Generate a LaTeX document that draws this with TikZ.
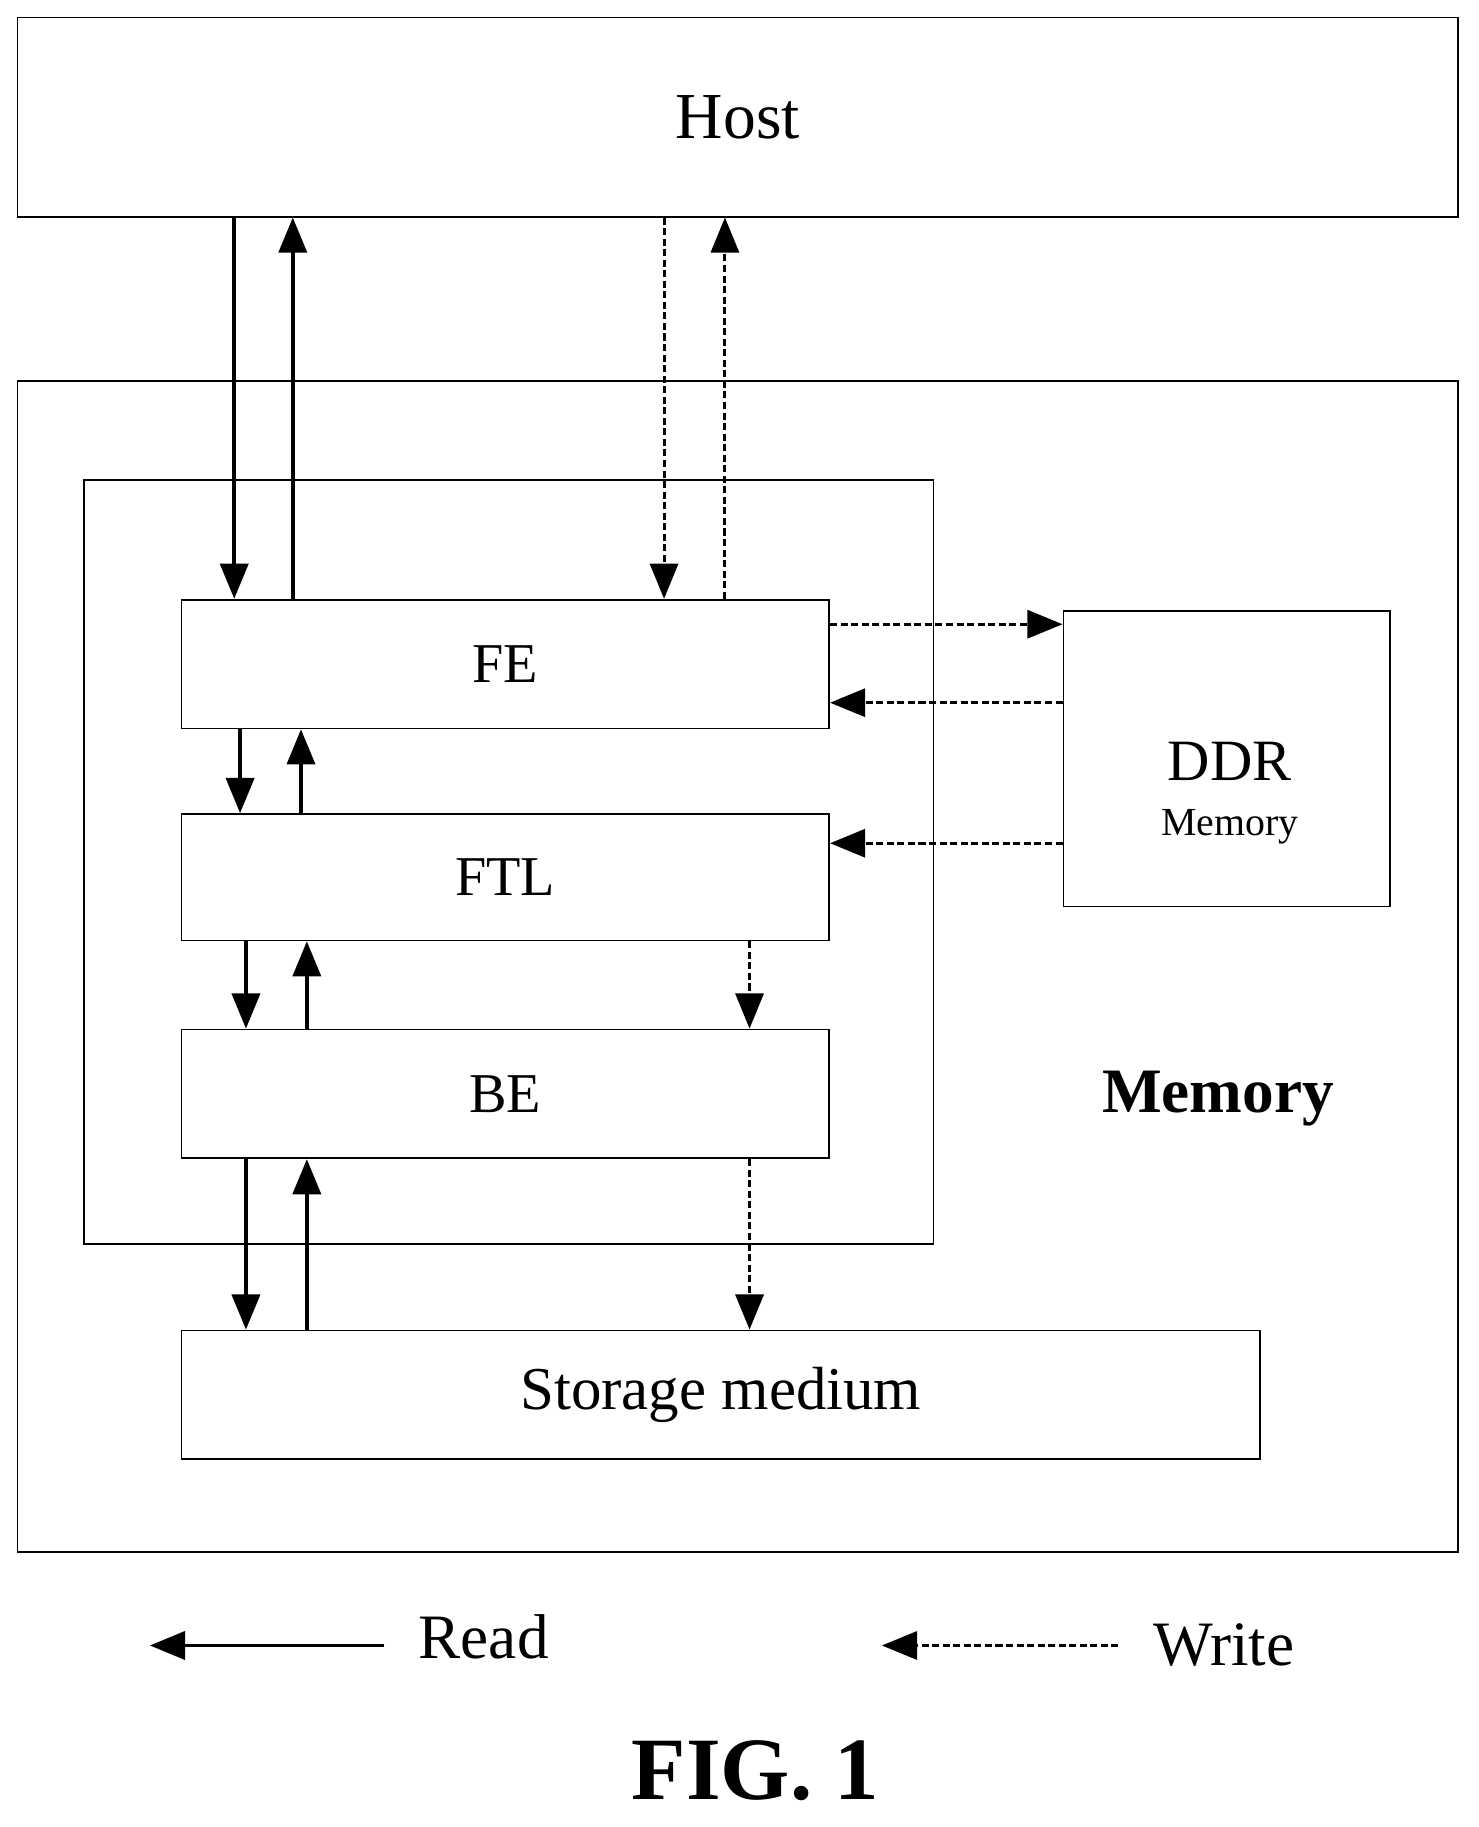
\documentclass[tikz,border=0pt]{standalone}
\usepackage{fontspec}
\setmainfont{Liberation Serif}
\usetikzlibrary{arrows.meta}
\begin{document}
\begin{tikzpicture}[x=1pt,y=-1pt,
 box/.style={draw,line width=1.5pt,inner sep=0pt},
 rd/.style={line width=3pt,-{Triangle[length=30pt,width=24pt]}},
 wr/.style={line width=2.5pt,dash pattern=on 6pt off 3pt,-{Triangle[length=30pt,width=24pt]}}]
\useasboundingbox (0,0) rectangle (1262,1560);
\node[box,minimum width=1230pt,minimum height=170pt,font=\fontsize{56}{60}\selectfont] (host) at (630,100) {Host};
\draw[line width=1.5pt] (15,325) rectangle (1245,1325);
\draw[line width=1.5pt] (72,410) rectangle (797,1062);
\node[box,minimum width=553pt,minimum height=110pt,font=\fontsize{48}{52}\selectfont] (fe) at (431.5,567) {FE};
\node[box,minimum width=553pt,minimum height=108pt,font=\fontsize{48}{52}\selectfont] (ftl) at (431.5,749) {FTL};
\node[box,minimum width=553pt,minimum height=110pt,font=\fontsize{48}{52}\selectfont] (be) at (431.5,934) {BE};
\node[box,minimum width=279pt,minimum height=252pt] (ddr) at (1047.5,648) {};
\node[font=\fontsize{50}{54}\selectfont] (ddrt) at (1050,650) {DDR};
\node[font=\fontsize{34}{38}\selectfont] (ddrm) at (1050,706) {Memory};
\node[box,minimum width=921pt,minimum height=110pt,font=\fontsize{52}{56}\selectfont] (sm) at (615.5,1191) {Storage medium};
\node[font=\bfseries\fontsize{54}{58}\selectfont] (memlbl) at (1040,938) {Memory};
\draw[rd] (host.south -| 200,0) -- (fe.north -| 200,0);
\draw[rd] (fe.north -| 250,0) -- (host.south -| 250,0);
\draw[wr] (host.south -| 567,0) -- (fe.north -| 567,0);
\draw[wr] (fe.north -| 619,0) -- (host.south -| 619,0);
\draw[wr] (fe.east |- 0,533) -- (ddr.west |- 0,533);
\draw[wr] (ddr.west |- 0,600) -- (fe.east |- 0,600);
\draw[wr] (ddr.west |- 0,720) -- (ftl.east |- 0,720);
\draw[rd] (fe.south -| 205,0) -- (ftl.north -| 205,0);
\draw[rd] (ftl.north -| 257,0) -- (fe.south -| 257,0);
\draw[rd] (ftl.south -| 210,0) -- (be.north -| 210,0);
\draw[rd] (be.north -| 262,0) -- (ftl.south -| 262,0);
\draw[wr] (ftl.south -| 640,0) -- (be.north -| 640,0);
\draw[rd] (be.south -| 210,0) -- (sm.north -| 210,0);
\draw[rd] (sm.north -| 262,0) -- (be.south -| 262,0);
\draw[wr] (be.south -| 640,0) -- (sm.north -| 640,0);
\coordinate (r1) at (328,1405); \coordinate (r2) at (128,1405);
\draw[rd] (r1) -- (r2);
\node[font=\fontsize{54}{58}\selectfont] (read) at (413,1398) {Read};
\coordinate (w1) at (955,1405); \coordinate (w2) at (753,1405);
\draw[wr] (w1) -- (w2);
\node[font=\fontsize{54}{58}\selectfont] (write) at (1045,1405) {Write};
\node[font=\bfseries\fontsize{76}{80}\selectfont] (fig) at (645,1512) {FIG. 1};
\end{tikzpicture}
\end{document}
